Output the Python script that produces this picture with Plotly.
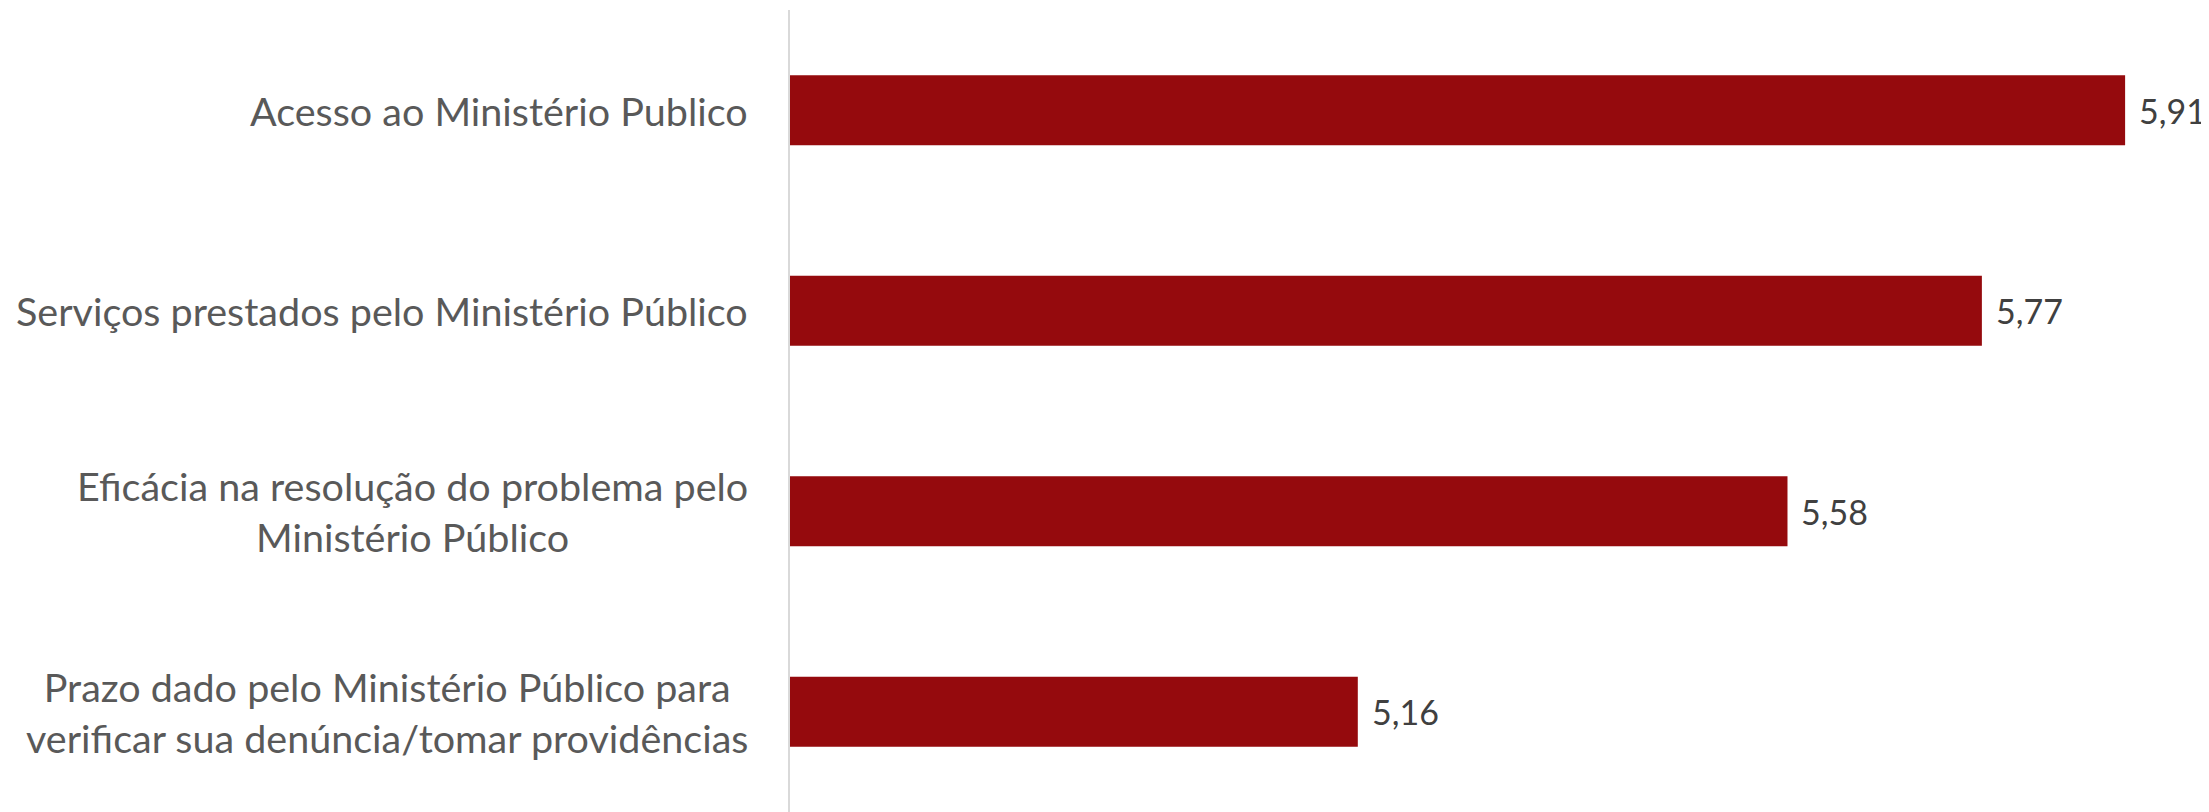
import plotly.graph_objects as go

categories = [
    "Acesso ao Ministério Publico",
    "Serviços prestados pelo Ministério Público",
    "Eficácia na resolução do problema pelo<br>Ministério Público",
    "Prazo dado pelo Ministério Público para<br>verificar sua denúncia/tomar providências",
]
values = [5.91, 5.77, 5.58, 5.16]
value_labels = ["5,91", "5,77", "5,58", "5,16"]

BAR_COLOR = "#950A0D"
FONT = "Lato, 'Open Sans', sans-serif"

fig = go.Figure()
fig.add_trace(go.Bar(
    y=categories,
    x=values,
    orientation="h",
    width=0.35,
    marker=dict(color=BAR_COLOR, line=dict(width=0)),
    hoverinfo="skip",
))

for cat, v, lab in zip(categories, values, value_labels):
    fig.add_annotation(
        x=v, y=cat, xref="x", yref="y", text=lab, showarrow=False,
        xanchor="left", xshift=12,
        font=dict(family=FONT, size=34, color="#404040"),
    )
    fig.add_annotation(
        x=0, y=cat, xref="paper", yref="y", text=cat, showarrow=False,
        xanchor="right", xshift=-40, align="center",
        font=dict(family=FONT, size=39.5, color="#595959"),
    )

fig.update_layout(
    width=2201, height=804,
    margin=dict(l=782, r=0, t=2, b=0),
    plot_bgcolor="white", paper_bgcolor="white",
    showlegend=False,
    xaxis=dict(range=[4.605, 5.992], showgrid=False, zeroline=False,
               showticklabels=False, showline=False, ticks=""),
    yaxis=dict(range=[3.5, -0.5], showgrid=False, zeroline=False,
               showticklabels=False, showline=True, linecolor="#D9D9D9",
               linewidth=2, ticks=""),
)

fig.write_html("out.html", config={"displayModeBar": False})
